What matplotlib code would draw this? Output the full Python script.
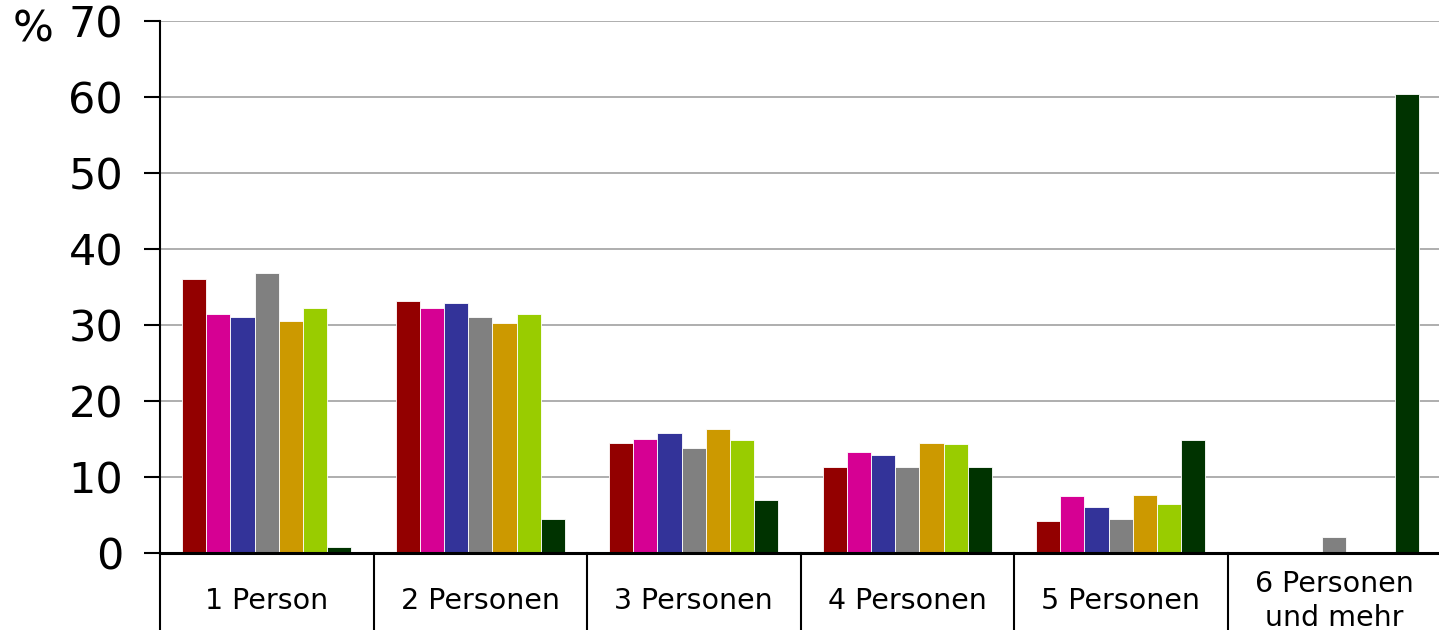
import numpy as np
import matplotlib.pyplot as plt
import matplotlib.transforms as mtransforms

# Kategorien (Haushaltsgröße)
kategorien = ['1 Person', '2 Personen', '3 Personen', '4 Personen',
              '5 Personen', '6 Personen\nund mehr']

# Werte je Reihe in % (None = kein Balken)
reihe1 = [36.0, 33.2, 14.5, 11.3, 4.2, None]
reihe2 = [31.4, 32.2, 15.0, 13.3, 7.5, None]
reihe3 = [31.1, 32.9, 15.8, 12.9, 6.1, None]
reihe4 = [36.8, 31.1, 13.8, 11.3, 4.5, 2.1]
reihe5 = [30.5, 30.3, 16.3, 14.5, 7.6, None]
reihe6 = [32.2, 31.4, 14.9, 14.3, 6.4, None]
reihe7 = [0.8, 4.5, 7.0, 11.3, 14.9, 60.4]

reihen = [reihe1, reihe2, reihe3, reihe4, reihe5, reihe6, reihe7]
farben = ['#930000', '#d60093', '#333399', '#808080',
          '#cc9900', '#99cc00', '#003300']

y_ticks = [0, 10, 20, 30, 40, 50, 60, 70]

fig = plt.figure(figsize=(14.39, 6.30), dpi=100)
ax = fig.add_axes([160 / 1439, 77 / 630, 1281 / 1439, 532 / 630])

x = np.arange(len(kategorien))
breite = 0.1133
for i, (werte, farbe) in enumerate(zip(reihen, farben)):
    offset = (i - 3) * breite
    for xi, w in zip(x, werte):
        if w is None:
            continue
        ax.bar(xi + offset, w, width=breite, color=farbe,
               edgecolor='white', linewidth=0.6, zorder=3)

ax.set_xlim(-0.5, len(kategorien) - 0.5)
ax.set_ylim(0, 70)
ax.set_yticks(y_ticks)
ax.set_yticklabels([str(t) for t in y_ticks], fontsize=31)
ax.tick_params(axis='y', length=11.5, width=1.5, pad=15)
ax.set_xticks([])
ax.yaxis.grid(True, color='#999999', linewidth=1.1, zorder=0)

for s in ['top', 'right']:
    ax.spines[s].set_visible(False)
ax.spines['left'].set_linewidth(1.5)
ax.spines['bottom'].set_linewidth(2.2)
ax.spines['bottom'].set_zorder(4)

# Trennlinien der Kategorienfelder unter der Achse
trans = mtransforms.blended_transform_factory(ax.transData, fig.transFigure)
for b in np.arange(-0.5, len(kategorien), 1.0):
    ax.plot([b, b], [0, 77 / 630], color='black', linewidth=1.5,
            transform=trans, clip_on=False)

for xi, name in zip(x, kategorien):
    ax.text(xi, 29 / 630, name, transform=trans, ha='center', va='center',
            fontsize=20.5, linespacing=1.25)

fig.text(13 / 1439, 1 - 29 / 630, '%', fontsize=31, ha='left', va='center')

fig.savefig('out.png', dpi=100)
